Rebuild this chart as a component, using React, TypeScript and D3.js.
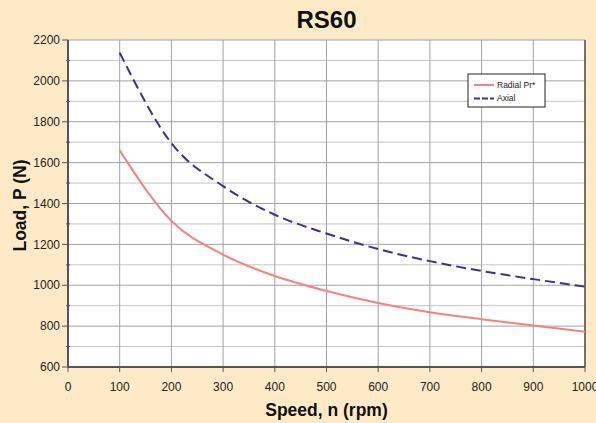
import React from "react";
import * as d3 from "d3";

const speeds = [100, 200, 300, 400, 500, 600, 700, 800, 900, 1000];
const radial = [1660, 1315, 1150, 1045, 972, 913, 868, 834, 803, 772];
const axial = [2138, 1695, 1485, 1345, 1253, 1177, 1118, 1070, 1030, 993];
const xTicks = [0, 100, 200, 300, 400, 500, 600, 700, 800, 900, 1000];
const yTicks = [600, 800, 1000, 1200, 1400, 1600, 1800, 2000, 2200];
const yMinor = [700, 900, 1100, 1300, 1500, 1700, 1900, 2100];

const W = 596;
const H = 423;
const L = 68, R = 585, T = 40, B = 367;

export default function App() {
  const x = d3.scaleLinear().domain([0, 1000]).range([L, R]);
  const y = d3.scaleLinear().domain([600, 2200]).range([B, T]);
  const line = d3
    .line<number>()
    .x((_, i) => x(speeds[i]))
    .y((d) => y(d))
    .curve(d3.curveMonotoneX);
  const narrow = "'Liberation Sans Narrow', 'Arial Narrow', Arial, sans-serif";
  const bold = "'Liberation Sans', Arial, Helvetica, sans-serif";
  return (
    <svg
      width={W}
      height={H}
      style={{ position: "absolute", left: 0, top: 0 }}
      xmlns="http://www.w3.org/2000/svg"
    >
      <rect x={0} y={0} width={W} height={H} fill="#FEEAC6" />
      <rect x={L} y={T} width={R - L} height={B - T} fill="#FFFFFF" />
      {yMinor.map((v) => (
        <line key={"m" + v} x1={L} x2={R} y1={y(v)} y2={y(v)} stroke="#c4c4c4" strokeWidth={1} />
      ))}
      {yTicks.map((v) => (
        <line key={"g" + v} x1={L} x2={R} y1={y(v)} y2={y(v)} stroke="#a2a2a2" strokeWidth={1} />
      ))}
      {xTicks.slice(1).map((v) => (
        <line key={"v" + v} x1={x(v)} x2={x(v)} y1={T} y2={B} stroke="#a2a2a2" strokeWidth={1} />
      ))}
      <line x1={R} x2={R} y1={T} y2={B} stroke="#555" strokeWidth={1.5} />
      <path d={line(radial) || ""} fill="none" stroke="#F4827E" strokeWidth={2} />
      <path d={line(axial) || ""} fill="none" stroke="#3F2F99" strokeWidth={2} strokeDasharray="10,5" />
      {/* axes */}
      <line x1={L} x2={L} y1={T} y2={B} stroke="#555" strokeWidth={2} />
      <line x1={L} x2={R} y1={B} y2={B} stroke="#555" strokeWidth={2} />
      {yTicks.map((v) => (
        <g key={"yt" + v}>
          <line x1={L - 6} x2={L} y1={y(v)} y2={y(v)} stroke="#555" strokeWidth={1} />
          <text x={L - 8} y={y(v)} dy="0.35em" textAnchor="end" fontFamily={narrow} fontSize={12} fill="#222">
            {v}
          </text>
        </g>
      ))}
      {yMinor.map((v) => (
        <line key={"ym" + v} x1={L - 2} x2={L + 2} y1={y(v)} y2={y(v)} stroke="#555" strokeWidth={1} />
      ))}
      {xTicks.map((v) => (
        <g key={"xt" + v}>
          <line x1={x(v)} x2={x(v)} y1={B} y2={B + 5} stroke="#555" strokeWidth={1} />
          <text x={x(v)} y={390.5} textAnchor="middle" fontFamily={narrow} fontSize={12} fill="#222">
            {v}
          </text>
        </g>
      ))}
      <text x={(L + R) / 2} y={28} textAnchor="middle" fontFamily={bold} fontWeight="bold" fontSize={24} fill="#111">
        RS60
      </text>
      <text x={(L + R) / 2} y={416} textAnchor="middle" fontFamily={bold} fontWeight="bold" fontSize={17.5} fill="#111">
        Speed, n (rpm)
      </text>
      <text
        transform={`translate(26, ${(T + B) / 2 + 2}) rotate(-90)`}
        textAnchor="middle"
        fontFamily={bold}
        fontWeight="bold"
        fontSize={17.5}
        fill="#111"
      >
        Load, P (N)
      </text>
      {/* legend */}
      <rect x={468} y={74} width={77} height={33} fill="#fff" stroke="#222" strokeWidth={1} />
      <line x1={474} x2={494} y1={85} y2={85} stroke="#F4827E" strokeWidth={2} />
      <line x1={474} x2={494} y1={98.5} y2={98.5} stroke="#3F2F99" strokeWidth={2} strokeDasharray="6,2" />
      <text x={497} y={85} dy="0.35em" fontFamily={bold} fontSize={8.5} fill="#222">
        Radial Pr*
      </text>
      <text x={497} y={98.5} dy="0.35em" fontFamily={bold} fontSize={8.5} fill="#222">
        Axial
      </text>
    </svg>
  );
}
